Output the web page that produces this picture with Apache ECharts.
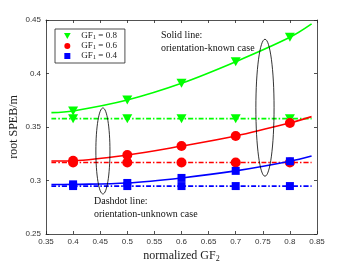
<!DOCTYPE html>
<html>
<head>
<meta charset="utf-8">
<script src="https://cdn.jsdelivr.net/npm/echarts@6/dist/echarts.min.js"></script>
<style>html,body{margin:0;padding:0;background:#fff;}#c{width:350px;height:263px;}</style>
</head>
<body>
<div id="c"></div>
<script>
// ---- data ----
const xCurve = [0.36, 0.4, 0.5, 0.6, 0.7, 0.8, 0.84];
const xMarks = [0.4, 0.5, 0.6, 0.7, 0.8];
const solidGF08 = [0.3634, 0.3650, 0.3752, 0.3908, 0.4110, 0.4338, 0.4463];
const solidGF06 = [0.3182, 0.3185, 0.3238, 0.3322, 0.3416, 0.3538, 0.3597];
const solidGF04 = [0.2962, 0.2964, 0.2977, 0.3024, 0.3090, 0.3180, 0.3229];
const dashGF08 = [0.3578, 0.3578, 0.3578, 0.3578, 0.3578, 0.3578, 0.3578];
const dashGF06 = [0.3168, 0.3168, 0.3168, 0.3168, 0.3168, 0.3168, 0.3168];
const dashGF04 = [0.2948, 0.2948, 0.2948, 0.2948, 0.2948, 0.2948, 0.2948];
const seriesNames = ['GF1 = 0.8', 'GF1 = 0.6', 'GF1 = 0.4'];
const legendLabels = ['0.8', '0.6', '0.4'];
const xTicks = [0.35, 0.4, 0.45, 0.5, 0.55, 0.6, 0.65, 0.7, 0.75, 0.8, 0.85];
const yTicks = [0.25, 0.3, 0.35, 0.4, 0.45];
// ellipse annotations: [cx, cy, rx, ry] in data units
const ellipses = [[0.455, 0.3276, 0.013, 0.0402], [0.754, 0.368, 0.0168, 0.064]];

const colors = ['#00ff00', '#ff0000', '#0000ff'];
const syms = ['triangle', 'circle', 'rect'];
const symSizes = [[10, 9], 10, 8];
const symRot = [180, 0, 0];
const legendIcons = ['path://M0,0 L10,0 L5,9 Z', 'path://M5,0 A5,5 0 1 1 4.99,0 Z', 'path://M0,0 L10,0 L10,10 L0,10 Z'];
const serif = '"Liberation Serif", "DejaVu Serif", serif';
const sans = '"Liberation Sans", Arial, sans-serif';

function pairs(xs, ys) { return xs.map((x, i) => [x, ys[i]]); }
function symFn(k) {
  return function (val) { return xMarks.indexOf(val[0]) >= 0 ? syms[k] : 'none'; };
}

const solids = [solidGF08, solidGF06, solidGF04];
const dashes = [dashGF08, dashGF06, dashGF04];
const series = [];
for (let k = 0; k < 3; k++) {
  series.push({
    name: seriesNames[k], type: 'line', smooth: 0.35, data: pairs(xCurve, dashes[k]),
    symbol: symFn(k), symbolSize: symSizes[k], symbolRotate: symRot[k], showAllSymbol: true,
    itemStyle: { color: colors[k] },
    lineStyle: { color: colors[k], width: 1.7, type: [5, 2, 1.5, 2] },
    z: 3, animation: false
  });
  series.push({
    name: seriesNames[k], type: 'line', smooth: 0.35, data: pairs(xCurve, solids[k]),
    symbol: symFn(k), symbolSize: symSizes[k], symbolRotate: symRot[k], showAllSymbol: true,
    itemStyle: { color: colors[k] },
    lineStyle: { color: colors[k], width: 1.6 },
    z: 4, animation: false
  });
}
series.push({
  type: 'custom', data: ellipses, encode: { x: 0, y: 1 }, clip: false, z: 5, animation: false,
  renderItem: function (params, api) {
    const c = api.coord([api.value(0), api.value(1)]);
    const s = api.size([api.value(2), api.value(3)]);
    return { type: 'ellipse', shape: { cx: c[0], cy: c[1], rx: s[0], ry: s[1] },
      style: { fill: null, stroke: '#000', lineWidth: 0.8 } };
  }
});

const axisLineStyle = { show: true, lineStyle: { color: '#262626', width: 0.8 } };
const tickStyle = { show: true, inside: true, length: 3, lineStyle: { color: '#262626', width: 0.8 } };

const option = {
  backgroundColor: '#fff',
  animation: false,
  grid: { left: 46, right: 33, top: 20, bottom: 29, containLabel: false, outerBoundsMode: 'none' },
  legend: {
    orient: 'vertical', left: 55, top: 29,
    data: seriesNames.map((n, k) => ({ name: n, icon: legendIcons[k] })),
    itemWidth: 18, itemHeight: 6, itemGap: 0,
    padding: [2, 8, 2, 9],
    borderColor: '#222', borderWidth: 0.8, backgroundColor: '#fff',
    selectedMode: false,
    formatter: function (name) { const i = seriesNames.indexOf(name); return '{a|GF}{s|1}{a| = ' + legendLabels[i] + '}'; },
    textStyle: {
      color: '#222', fontFamily: serif, fontSize: 9, lineHeight: 9,
      rich: { a: { fontFamily: serif, fontSize: 9, color: '#222', lineHeight: 9 },
              s: { fontFamily: serif, fontSize: 6.5, color: '#222', lineHeight: 9, padding: [3, 0, 0, 0] } }
    }
  },
  xAxis: [{
    type: 'value', min: 0.35, max: 0.85, interval: 0.05,
    name: '{a|normalized GF}{s|2}', nameLocation: 'middle', nameGap: 15, nameMoveOverlap: false,
    nameTextStyle: { rich: { a: { fontFamily: serif, fontSize: 12, color: '#222' },
                             s: { fontFamily: serif, fontSize: 8, color: '#222', padding: [6, 0, 0, 0] } } },
    axisLine: axisLineStyle, axisTick: tickStyle, splitLine: { show: false },
    axisLabel: { fontFamily: sans, fontSize: 8, color: '#333', margin: 4,
      formatter: v => { const t = xTicks.find(x => Math.abs(x - v) < 1e-9); return t === undefined ? '' : String(t); } }
  }, {
    type: 'value', position: 'top', min: 0.35, max: 0.85, interval: 0.05,
    axisLine: axisLineStyle, axisTick: tickStyle, axisLabel: { show: false }, splitLine: { show: false }
  }],
  yAxis: [{
    type: 'value', min: 0.25, max: 0.45, interval: 0.05,
    name: 'root SPEB/m', nameLocation: 'middle', nameGap: 26, nameMoveOverlap: false,
    nameTextStyle: { fontFamily: serif, fontSize: 12, color: '#222' },
    axisLine: axisLineStyle, axisTick: tickStyle, splitLine: { show: false },
    axisLabel: { fontFamily: sans, fontSize: 8, color: '#333', margin: 5,
      formatter: v => { const t = yTicks.find(y => Math.abs(y - v) < 1e-9); return t === undefined ? '' : String(t); } }
  }, {
    type: 'value', position: 'right', min: 0.25, max: 0.45, interval: 0.05,
    axisLine: axisLineStyle, axisTick: tickStyle, axisLabel: { show: false }, splitLine: { show: false }
  }],
  graphic: [
    { type: 'text', left: 161, top: 29, z: 10,
      style: { text: 'Solid line:\norientation-known case', font: '10px ' + serif, fill: '#111', lineHeight: 13 } },
    { type: 'text', left: 94, top: 195, z: 10,
      style: { text: 'Dashdot line:\norientation-unknown case', font: '10px ' + serif, fill: '#111', lineHeight: 13 } }
  ],
  series: series
};
const chart = echarts.init(document.getElementById('c'), null, { renderer: 'canvas' });
chart.setOption(option);
</script>
</body>
</html>
